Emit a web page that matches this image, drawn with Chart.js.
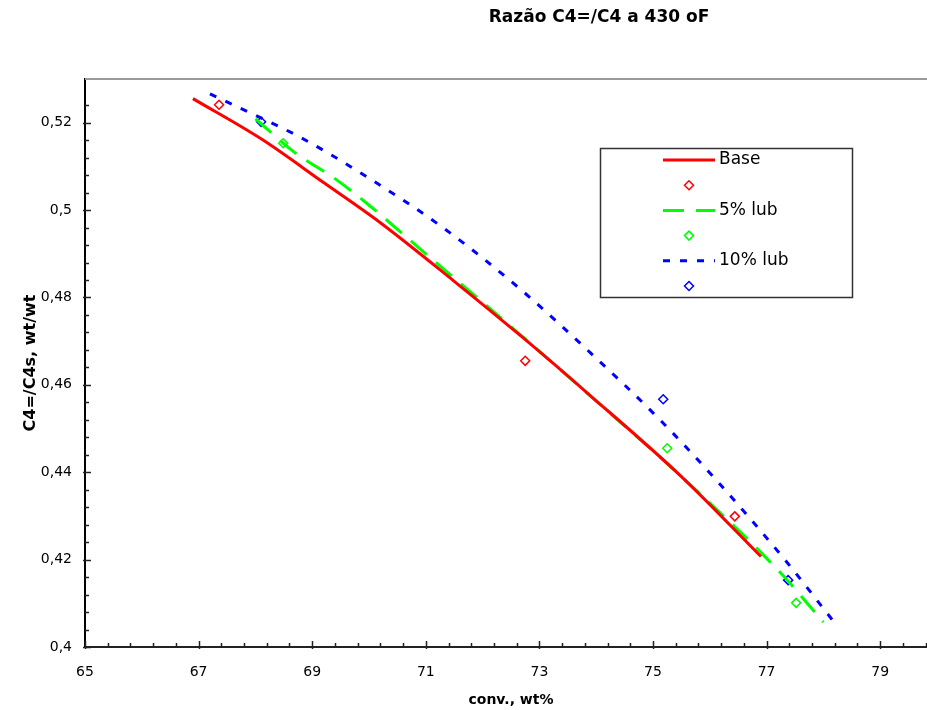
<!DOCTYPE html>
<html lang="pt">
<head>
    <meta charset="UTF-8">
    <title>Razão C4=/C4 a 430 oF</title>
    <script src="https://cdn.jsdelivr.net/npm/chart.js"></script>
    <style>
        html, body {
            margin: 0;
            padding: 0;
            background: #fff;
            overflow: hidden;
        }
        #wrap {
            width: 945px;
            height: 710px;
        }
    </style>
</head>
<body>
    <div id="wrap">
        <canvas id="chart" width="945" height="710"></canvas>
    </div>

    <script>
        // fitted curves
        const baseX = [66.9, 68.1, 69.2, 70.2, 71.5, 72.7, 73.9, 75.5, 76.9];
        const baseY = [0.5255, 0.5163, 0.5063, 0.4971, 0.4837, 0.4709, 0.4575, 0.4390, 0.4207];
        const lub5X = [68.0, 68.7, 69.4, 69.9, 71.0, 72.5, 74.0, 75.5, 77.2, 78.0];
        const lub5Y = [0.5209, 0.5131, 0.5072, 0.5022, 0.4900, 0.4733, 0.4563, 0.4390, 0.4176, 0.4057];
        const lub10X = [67.2, 68.0, 68.8, 70.0, 71.3, 72.7, 73.9, 75.1, 76.1, 77.3, 78.2];
        const lub10Y = [0.5266, 0.5217, 0.5166, 0.5073, 0.4960, 0.4815, 0.4673, 0.4523, 0.4384, 0.4203, 0.4055];

        // measured points
        const baseObsX = [67.36, 72.75, 76.44];
        const baseObsY = [0.5241, 0.4655, 0.4299];
        const lub5ObsX = [68.49, 75.25, 77.52];
        const lub5ObsY = [0.5153, 0.4455, 0.4101];
        const lub10ObsX = [68.1, 75.18, 77.38];
        const lub10ObsY = [0.5202, 0.4567, 0.4153];

        const xLabels = [65, 67, 69, 71, 73, 75, 77, 79];
        const legendLabels = ['Base', '', '5% lub', '', '10% lub', ''];

        function pts(xs, ys) {
            return xs.map((x, i) => ({ x: x, y: ys[i] }));
        }

        function lineSet(label, xs, ys, color, dash) {
            return {
                label: label,
                data: pts(xs, ys),
                showLine: true,
                borderColor: color,
                borderWidth: 3,
                borderDash: dash,
                pointRadius: 0,
                cubicInterpolationMode: 'monotone',
                fill: false
            };
        }

        function pointSet(xs, ys, color) {
            return {
                label: '',
                data: pts(xs, ys),
                showLine: false,
                pointStyle: 'rectRot',
                pointRadius: 4.5,
                pointBorderWidth: 1.5,
                pointBorderColor: color,
                pointBackgroundColor: 'rgba(0,0,0,0)'
            };
        }

        const near = (a, b) => Math.abs(a - b) < 1e-6;
        const isXLabel = v => xLabels.some(l => near(l, v));
        const isMajorY = v => near(v / 0.02, Math.round(v / 0.02));

        // title, inner tick marks, top frame line and the legend box
        const extras = {
            id: 'extras',
            afterDraw(chart) {
                const ctx = chart.ctx;
                const area = chart.chartArea;
                const xs = chart.scales.x, ys = chart.scales.y;
                ctx.save();

                ctx.fillStyle = '#000';
                ctx.font = 'bold 17px "DejaVu Sans"';
                ctx.textAlign = 'center';
                ctx.textBaseline = 'middle';
                ctx.fillText('Razão C4=/C4 a 430 oF', 599, 18);

                ctx.strokeStyle = '#999';
                ctx.lineWidth = 2;
                ctx.beginPath();
                ctx.moveTo(area.left, area.top);
                ctx.lineTo(chart.width, area.top);
                ctx.stroke();

                ctx.strokeStyle = '#222';
                ctx.lineWidth = 1.5;
                xs.ticks.forEach(t => {
                    const px = Math.round(xs.getPixelForValue(t.value)) + 0.5;
                    const big = isXLabel(t.value);
                    ctx.beginPath();
                    ctx.moveTo(px, area.bottom + (big ? 2 : 0));
                    ctx.lineTo(px, area.bottom - (big ? 6 : 4));
                    ctx.stroke();
                });
                ys.ticks.forEach(t => {
                    if (t.value > 0.5295) return;
                    const py = Math.round(ys.getPixelForValue(t.value)) + 0.5;
                    const big = isMajorY(t.value);
                    ctx.beginPath();
                    ctx.moveTo(area.left - (big ? 2 : 0), py);
                    ctx.lineTo(area.left + (big ? 6 : 4), py);
                    ctx.stroke();
                });

                // legend
                const bx = 600, by = 148, bw = 252, bh = 149;
                ctx.fillStyle = '#fff';
                ctx.fillRect(bx, by, bw, bh);
                ctx.strokeStyle = '#333';
                ctx.lineWidth = 1.5;
                ctx.strokeRect(bx + 0.5, by + 0.5, bw, bh);

                const rowH = 25.2;
                chart.data.datasets.forEach((ds, i) => {
                    const cy = by + 12 + i * rowH;
                    if (ds.showLine) {
                        ctx.strokeStyle = ds.borderColor;
                        ctx.lineWidth = 3;
                        ctx.setLineDash(ds.borderDash || []);
                        ctx.beginPath();
                        ctx.moveTo(663, cy);
                        ctx.lineTo(715, cy);
                        ctx.stroke();
                        ctx.setLineDash([]);
                    } else {
                        const r = 4.5;
                        ctx.strokeStyle = ds.pointBorderColor;
                        ctx.lineWidth = 1.5;
                        ctx.beginPath();
                        ctx.moveTo(689, cy - r);
                        ctx.lineTo(689 + r, cy);
                        ctx.lineTo(689, cy + r);
                        ctx.lineTo(689 - r, cy);
                        ctx.closePath();
                        ctx.stroke();
                    }
                    if (legendLabels[i]) {
                        ctx.fillStyle = '#000';
                        ctx.font = '17px "DejaVu Sans"';
                        ctx.textAlign = 'left';
                        ctx.textBaseline = 'middle';
                        ctx.fillText(legendLabels[i], 719, cy);
                    }
                });
                ctx.restore();
            }
        };

        Chart.defaults.font.family = '"DejaVu Sans"';
        Chart.defaults.color = '#000';

        new Chart(document.getElementById('chart').getContext('2d'), {
            type: 'scatter',
            data: {
                datasets: [
                    lineSet('Base', baseX, baseY, '#ff0000', []),
                    pointSet(baseObsX, baseObsY, '#ff0000'),
                    lineSet('5% lub', lub5X, lub5Y, '#00ff00', [21, 12]),
                    pointSet(lub5ObsX, lub5ObsY, '#00ff00'),
                    lineSet('10% lub', lub10X, lub10Y, '#0000ff', [7, 10]),
                    pointSet(lub10ObsX, lub10ObsY, '#0000ff')
                ]
            },
            options: {
                responsive: false,
                animation: false,
                layout: { padding: { top: 79, right: 8, left: 0, bottom: 0 } },
                plugins: {
                    legend: { display: false },
                    title: { display: false },
                    tooltip: { enabled: false }
                },
                scales: {
                    x: {
                        type: 'linear',
                        min: 65,
                        max: 80,
                        afterBuildTicks: s => {
                            const t = [];
                            for (let i = 0; i <= 37; i++) t.push({ value: 65 + i * 0.4 });
                            s.ticks = t;
                        },
                        afterFit: s => { s.height = 63; s.paddingLeft = 0; s.paddingRight = 0; },
                        border: { color: '#222', width: 2 },
                        grid: { drawOnChartArea: false, drawTicks: false },
                        ticks: {
                            autoSkip: false,
                            maxRotation: 0,
                            padding: 17,
                            font: { size: 14 },
                            callback: v => isXLabel(v) ? String(Math.round(v)) : ''
                        },
                        title: {
                            display: true,
                            text: 'conv., wt%',
                            font: { size: 14, weight: 'bold' },
                            padding: { top: 0, bottom: 1 }
                        }
                    },
                    y: {
                        type: 'linear',
                        min: 0.4,
                        max: 0.53,
                        afterFit: s => { s.width = 85; },
                        border: { color: '#000', width: 2 },
                        grid: { drawOnChartArea: false, drawTicks: false },
                        ticks: {
                            stepSize: 0.004,
                            autoSkip: false,
                            padding: 13,
                            font: { size: 14 },
                            callback: v => isMajorY(v) ? String(Math.round(v * 100) / 100).replace('.', ',') : ''
                        },
                        title: {
                            display: true,
                            text: 'C4=/C4s, wt/wt',
                            font: { size: 16, weight: 'bold' },
                            padding: { top: 21, bottom: 0 }
                        }
                    }
                }
            },
            plugins: [extras]
        });
    </script>
</body>
</html>
